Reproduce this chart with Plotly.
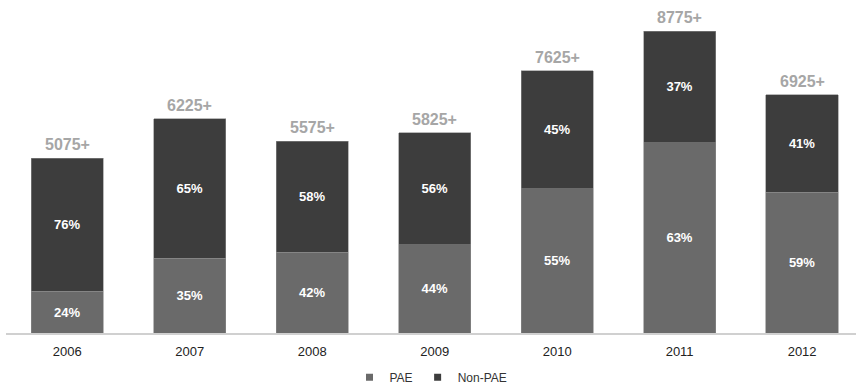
import plotly.graph_objects as go

years = ["2006", "2007", "2008", "2009", "2010", "2011", "2012"]
totals = [5075, 6225, 5575, 5825, 7625, 8775, 6925]
pae_pct = [24, 35, 42, 44, 55, 63, 59]
non_pae_pct = [76, 65, 58, 56, 45, 37, 41]
total_labels = ["5075+", "6225+", "5575+", "5825+", "7625+", "8775+", "6925+"]

pae_vals = [t * p / 100 for t, p in zip(totals, pae_pct)]
non_vals = [t * p / 100 for t, p in zip(totals, non_pae_pct)]

font = "Liberation Sans, Arial, sans-serif"
c_pae = "#6a6a6a"
c_non = "#3d3d3d"

fig = go.Figure()
fig.add_trace(go.Bar(
    x=years, y=pae_vals, name="PAE", showlegend=False,
    marker=dict(color=c_pae, line=dict(color="#8a8a8a", width=0.6)),
    text=[f"{p}%" for p in pae_pct], textposition="inside", insidetextanchor="middle",
    textfont=dict(color="white", size=13, family=font, weight="bold"),
    width=0.59,
))
fig.add_trace(go.Bar(
    x=years, y=non_vals, name="Non-PAE", showlegend=False,
    marker=dict(color=c_non, line=dict(color="#8a8a8a", width=0.6)),
    text=[f"{p}%" for p in non_pae_pct], textposition="inside", insidetextanchor="middle",
    textfont=dict(color="white", size=13, family=font, weight="bold"),
    width=0.59,
))
# legend entries
for name, c in [("PAE", c_pae), ("Non-PAE", c_non)]:
    fig.add_trace(go.Scatter(x=[None], y=[None], mode="markers", name=name,
                             marker=dict(symbol="square", size=7, color=c)))

for i, (t, lab) in enumerate(zip(totals, total_labels)):
    fig.add_annotation(x=i, y=t, text=lab, showarrow=False, yanchor="bottom", yshift=3,
                       font=dict(size=16, color="#a6a6a6", family=font, weight="bold"))

fig.update_layout(
    barmode="stack",
    width=856, height=388,
    margin=dict(l=6, r=0, t=0, b=55),
    plot_bgcolor="white", paper_bgcolor="white",
    showlegend=True,
    legend=dict(orientation="h", x=0.5, xanchor="center", yref="container", y=0.028,
                yanchor="middle", font=dict(size=12, color="#333", family=font),
                traceorder="normal", itemwidth=30, tracegroupgap=0),
    font=dict(family=font),
    uniformtext=dict(mode="show", minsize=8),
)
fig.update_xaxes(type="category", range=[-0.5, 6.44], showline=True, linecolor="#d0d0d0", linewidth=2,
                 ticks="", ticklabelstandoff=5,
                 tickfont=dict(size=13, color="#222", family=font), showgrid=False)
fig.update_yaxes(range=[0, 9680], visible=False, showgrid=False)

fig.write_html("out.html")
